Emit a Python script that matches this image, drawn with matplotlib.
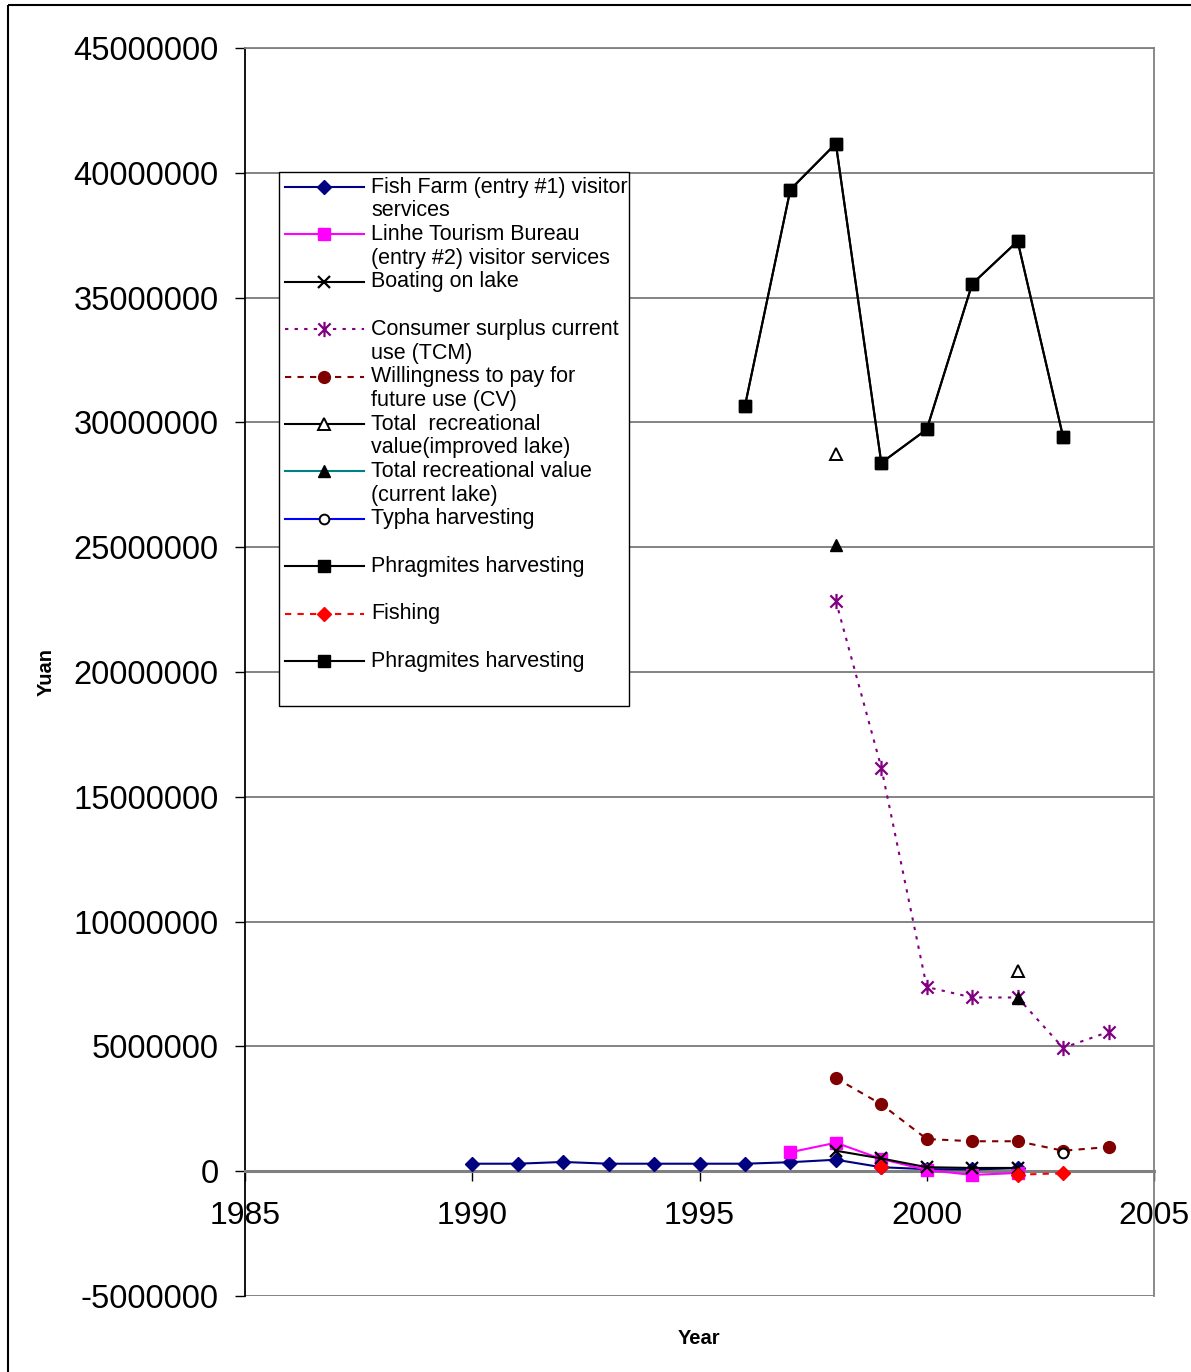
import numpy as np
import matplotlib
matplotlib.use("Agg")
import matplotlib.pyplot as plt
from matplotlib.path import Path
from matplotlib.patches import Rectangle
from matplotlib.lines import Line2D
from matplotlib.ticker import FuncFormatter, MultipleLocator

plt.rcParams['font.family'] = ['Liberation Sans', 'DejaVu Sans']

nan = np.nan

# Values in million Yuan
fish_farm_years = [1990, 1991, 1992, 1993, 1994, 1995, 1996, 1997, 1998, 1999, 2000, 2001, 2002]
fish_farm = [0.30, 0.30, 0.37, 0.30, 0.30, 0.30, 0.30, 0.36, 0.46, 0.16, 0.08, 0.07, 0.12]

linhe_years = [1997, 1998, 1999, 2000, 2001, 2002]
linhe = [0.76, 1.14, 0.49, 0.05, -0.15, -0.07]

boating_years = [1998, 1999, 2000, 2001, 2002]
boating = [0.82, 0.51, 0.16, 0.13, 0.13]

cs_years = [1998, 1999, 2000, 2001, 2002, 2003, 2004]
consumer_surplus = [22.85, 16.17, 7.38, 6.96, 6.96, 4.94, 5.58]

wtp_years = [1998, 1999, 2000, 2001, 2002, 2003, 2004]
wtp = [3.73, 2.68, 1.29, 1.20, 1.20, 0.82, 0.97]

total_years = [1998, 1999, 2000, 2001, 2002]
total_improved = [28.75, nan, nan, nan, 8.02]
total_current = [25.08, nan, nan, nan, 6.95]

typha_years = [2003]
typha = [0.71]

phrag_years = [1996, 1997, 1998, 1999, 2000, 2001, 2002, 2003]
phragmites = [30.66, 39.33, 41.17, 28.38, 29.72, 35.55, 37.26, 29.42]

fishing_years = [1999, 2000, 2001, 2002, 2003]
fishing = [0.16, nan, nan, -0.14, -0.08]

legend_labels = [
    ["Fish Farm (entry #1) visitor", "services"],
    ["Linhe Tourism Bureau", "(entry #2) visitor services"],
    ["Boating on lake"],
    ["Consumer surplus current", "use (TCM)"],
    ["Willingness to pay for", "future use (CV)"],
    ["Total  recreational", "value(improved lake)"],
    ["Total recreational value", "(current lake)"],
    ["Typha harvesting"],
    ["Phragmites harvesting"],
    ["Fishing"],
    ["Phragmites harvesting"],
]

# Six-armed asterisk marker (an X with a vertical bar)
star = Path([(0, -1), (0, 1), (-0.8, -0.8), (0.8, 0.8), (-0.8, 0.8), (0.8, -0.8)],
            [Path.MOVETO, Path.LINETO, Path.MOVETO, Path.LINETO, Path.MOVETO, Path.LINETO])

dotted = (0, (1.6, 3.0))
dashed = (0, (3, 3))

styles = [
    dict(color='#000080', ls='-', marker='D', ms=7, mfc='#000080', mec='#000080'),
    dict(color='#FF00FF', ls='-', marker='s', ms=8, mfc='#FF00FF', mec='#FF00FF'),
    dict(color='black', ls='-', marker='x', ms=9, mew=1.6, mfc='none', mec='black'),
    dict(color='#800080', ls=dotted, marker=star, ms=11, mew=1.6, mfc='none', mec='#800080'),
    dict(color='#800000', ls=dashed, marker='o', ms=8.5, mfc='#800000', mec='#800000'),
    dict(color='black', ls='-', marker='^', ms=8.5, mew=1.4, mfc='white', mec='black'),
    dict(color='#008080', ls='-', marker='^', ms=8.5, mfc='black', mec='black'),
    dict(color='#0000FF', ls='-', marker='o', ms=7, mew=1.4, mfc='white', mec='black'),
    dict(color='black', ls='-', marker='s', ms=9, mfc='black', mec='black'),
    dict(color='#FF0000', ls=dashed, marker='D', ms=7, mfc='#FF0000', mec='#FF0000'),
    dict(color='black', ls='-', marker='s', ms=9, mfc='black', mec='black'),
]

series = [
    (fish_farm_years, fish_farm),
    (linhe_years, linhe),
    (boating_years, boating),
    (cs_years, consumer_surplus),
    (wtp_years, wtp),
    (total_years, total_improved),
    (total_years, total_current),
    (typha_years, typha),
    (phrag_years, phragmites),
    (fishing_years, fishing),
    (phrag_years, phragmites),
]

W, H = 1191, 1372
fig = plt.figure(figsize=(W / 100, H / 100), dpi=100)
ax = fig.add_axes([245 / W, 1 - 1296 / H, 909 / W, 1248 / H])

for (xs, ys), st in zip(series, styles):
    ax.plot(xs, np.array(ys) * 1e6, lw=1.5, color=st['color'], linestyle=st['ls'],
            marker=st['marker'], markersize=st['ms'], markeredgewidth=st.get('mew', 1.0),
            markerfacecolor=st['mfc'], markeredgecolor=st['mec'], clip_on=False, zorder=3)

ax.set_xlim(1985, 2005)
ax.set_ylim(-5e6, 45e6)
ax.yaxis.set_major_locator(MultipleLocator(5e6))
ax.xaxis.set_major_locator(MultipleLocator(5))
ax.yaxis.set_major_formatter(FuncFormatter(lambda v, p: f"{int(round(v))}"))
ax.xaxis.set_major_formatter(FuncFormatter(lambda v, p: f"{int(round(v))}"))
ax.yaxis.grid(True, color='#7a7a7a', lw=1.3, zorder=0)
ax.set_axisbelow(True)

ax.spines['bottom'].set_position(('data', 0))
ax.spines['bottom'].set_color('#808080')
ax.spines['bottom'].set_linewidth(2.2)
ax.spines['left'].set_color('black')
ax.spines['left'].set_linewidth(1.3)
for s in ('top', 'right'):
    ax.spines[s].set_color('#808080')
    ax.spines[s].set_linewidth(1.3)

ax.tick_params(axis='y', direction='out', length=7, width=1, pad=12, labelsize=23.5, colors='black')
ax.tick_params(axis='x', direction='out', length=7.5, width=1, pad=14, labelsize=23, colors='black')

# Overlay in pixel coordinates for the legend, axis titles and outer frame
lax = fig.add_axes([0, 0, 1, 1], zorder=5)
lax.set_xlim(0, W)
lax.set_ylim(H, 0)
lax.axis('off')

lax.plot([8, 8], [H + 5, 5], color='black', lw=1.5, solid_capstyle='butt')
lax.plot([8, W + 5], [5, 5], color='black', lw=1.5, solid_capstyle='butt')

lax.text(46, 672, 'Yuan', rotation=90, ha='center', va='center', fontsize=14.5, fontweight='bold')
lax.text(699, 1338, 'Year', ha='center', va='center', fontsize=14.5, fontweight='bold')

lax.add_patch(Rectangle((279, 172), 350, 534, facecolor='white', edgecolor='black', lw=1.0))
for i, (lines, st) in enumerate(zip(legend_labels, styles)):
    y0 = 187 + i * 47.4
    lax.add_line(Line2D([285, 364], [y0, y0], color=st['color'], linestyle=st['ls'], lw=1.5))
    lax.add_line(Line2D([324], [y0], linestyle='none', marker=st['marker'], markersize=st['ms'],
                        markeredgewidth=st.get('mew', 1.0), markerfacecolor=st['mfc'],
                        markeredgecolor=st['mec']))
    for j, t in enumerate(lines):
        lax.text(371, y0 + j * 24, t, ha='left', va='center', fontsize=15.5)

fig.savefig('out.png', dpi=100)
